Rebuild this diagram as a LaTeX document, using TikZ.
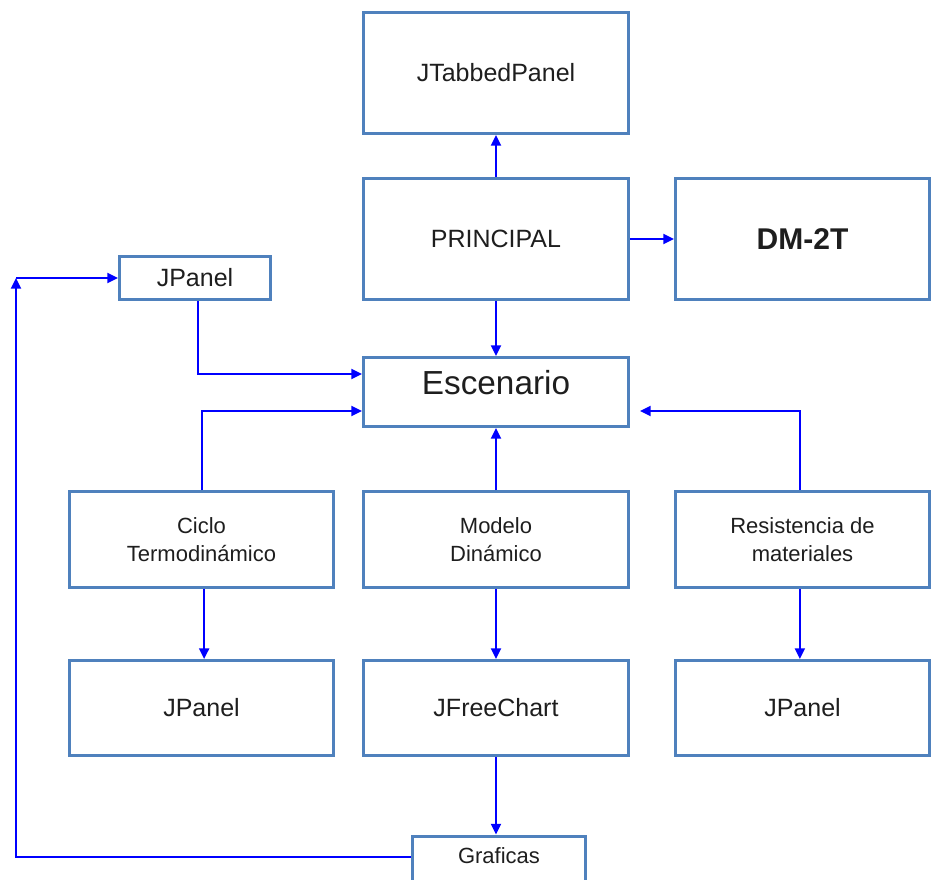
\documentclass[tikz,border=0pt]{standalone}
\usepackage{fontspec}
\setmainfont{Liberation Sans}
\usetikzlibrary{arrows.meta}

\definecolor{boxblue}{RGB}{79,129,189}
\definecolor{linkblue}{RGB}{0,0,255}
\definecolor{ink}{RGB}{30,30,30}

\begin{document}
\begin{tikzpicture}[x=0.75pt,y=-0.75pt,
    box/.style={draw=boxblue, line width=2.25pt, inner sep=0pt, align=center, text=ink,
      font=\fontsize{18.75}{22}\selectfont},
    big/.style={box, minimum width=198.75pt, minimum height=90.75pt},
    mid/.style={box, minimum width=198pt, minimum height=72pt,
      font=\fontsize{16.5}{21}\selectfont},
    low/.style={box, minimum width=198pt, minimum height=71.25pt},
    link/.style={draw=linkblue, line width=1.5pt, -{Triangle[length=8pt,width=7.5pt]}}]
    \useasboundingbox (0,0) rectangle (931,880);

    \node[big] (tabbed) at (496,73) {JTabbedPanel};
    \node[big] (principal) at (496,239) {PRINCIPAL};
    \node[big, minimum width=190.5pt, font=\fontsize{22.5}{26}\selectfont\bfseries] (dm) at (802.5,239) {DM-2T};
    \node[box, minimum width=113.25pt, minimum height=32.25pt] (jpanelA) at (195,278) {JPanel};
    \node[box, minimum width=198.75pt, minimum height=51.75pt, text depth=15pt,
      font=\fontsize{25}{28}\selectfont] (escenario) at (496,392) {Escenario};

    \node[mid] (ciclo) at (201.5,539.5) {Ciclo\\Termodinámico};
    \node[mid, minimum width=198.75pt] (modelo) at (496,539.5) {Modelo\\Dinámico};
    \node[mid, minimum width=190.5pt] (resist) at (802.5,539.5) {Resistencia de\\materiales};

    \node[low] (jpanelB) at (201.5,708) {JPanel};
    \node[low, minimum width=198.75pt] (jfree) at (496,708) {JFreeChart};
    \node[low, minimum width=190.5pt] (jpanelC) at (802.5,708) {JPanel};
    \node[box, minimum width=129.75pt, minimum height=37.5pt, text depth=8pt,
      font=\fontsize{16.5}{20}\selectfont] (graficas) at (499,861) {Graficas};

    \coordinate (loop) at (16,278);

    \draw[link] (principal) -- (tabbed);
    \draw[link] (principal) -- (dm);
    \draw[link] (principal) -- (escenario);
    \draw[link] ([xshift=2.25pt]jpanelA.south) |- ([yshift=13.5pt]escenario.west);
    \draw[link] (ciclo.north) |- ([yshift=-14.25pt]escenario.west);
    \draw[link] (modelo) -- (escenario);
    \draw[link] ([xshift=-2pt]resist.north) |- ([xshift=7.5pt,yshift=-14.25pt]escenario.east);
    \draw[link] ([xshift=2pt]ciclo.south) -- ([xshift=2pt]jpanelB.north);
    \draw[link] (modelo) -- (jfree);
    \draw[link] ([xshift=-2pt]resist.south) -- ([xshift=-2pt]jpanelC.north);
    \draw[link] (jfree.south) -- (jfree.south |- graficas.north);
    \draw[link] ([yshift=3pt]graficas.west) -| (loop);
    \draw[link] (loop) -- (jpanelA.west);
\end{tikzpicture}
\end{document}
